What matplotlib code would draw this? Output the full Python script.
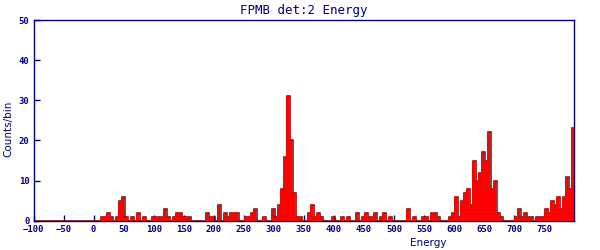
import numpy as np
import matplotlib
matplotlib.use('Agg')
import matplotlib.pyplot as plt

# histogram: 5-unit bins from -100 to 800
bin_start = -100
bin_stop = 800
bin_width = 5

counts_m100 = [0] * 20
counts_0 = [0, 0, 1, 1, 2, 1, 0, 1, 5, 6, 1, 0, 1, 0, 2, 0, 1, 0, 0, 1]
counts_100 = [1, 1, 1, 3, 1, 0, 1, 2, 2, 1, 1, 1, 0, 0, 0, 0, 0, 2, 1, 1]
counts_200 = [0, 4, 0, 2, 1, 2, 2, 2, 0, 0, 1, 1, 2, 3, 0, 0, 1, 0, 0, 3]
counts_300 = [1, 4, 8, 16, 31, 20, 7, 1, 1, 0, 0, 2, 4, 1, 2, 1, 0, 0, 0, 1]
counts_400 = [0, 0, 1, 0, 1, 0, 0, 2, 0, 1, 2, 1, 1, 2, 0, 1, 2, 0, 1, 0]
counts_500 = [0, 0, 0, 0, 3, 0, 1, 0, 0, 1, 1, 0, 2, 2, 1, 0, 0, 0, 1, 2]
counts_600 = [6, 1, 5, 7, 8, 4, 15, 10, 12, 17, 15, 22, 8, 10, 2, 1, 0, 0, 0, 0]
counts_700 = [1, 3, 1, 2, 1, 1, 0, 1, 1, 1, 3, 2, 5, 4, 6, 3, 6, 11, 8, 23]

counts = np.array(counts_m100 + counts_0 + counts_100 + counts_200 + counts_300
                  + counts_400 + counts_500 + counts_600 + counts_700, dtype=float)
edges = np.arange(bin_start, bin_stop + bin_width, bin_width)

navy = '#000080'

fig = plt.figure(figsize=(6, 2.5), dpi=100)
ax = fig.add_axes([0.056, 0.117, 0.901, 0.803])

# dark outline shifted one pixel right gives the shaded edge
px = (bin_stop - bin_start) / 540.0
ax.stairs(counts, edges + px, color='#7a0000', lw=1.1, zorder=3)
ax.stairs(counts, edges, fill=True, color='#ff0000', lw=0, zorder=4)

ax.set_xlim(bin_start, bin_stop)
ax.set_ylim(0, 50)
ax.set_xticks(np.arange(-100, 800, 50))
ax.set_yticks(np.arange(0, 51, 10))

for s in ax.spines.values():
    s.set_color(navy)
    s.set_linewidth(1.0)
ax.tick_params(direction='in', length=4, width=1, colors=navy, labelsize=6.5, pad=3)
for lab in ax.get_xticklabels() + ax.get_yticklabels():
    lab.set_family('DejaVu Sans Mono')
    lab.set_fontweight('bold')

ax.set_title('FPMB det:2 Energy', color=navy, fontsize=9, family='DejaVu Sans Mono', pad=4)
ax.set_xlabel('Energy', color=navy, fontsize=7.5)
ax.set_ylabel('Counts/bin', color=navy, fontsize=7.5)
ax.xaxis.set_label_coords(0.73, -0.085)
ax.yaxis.set_label_coords(-0.038, 0.46)

fig.savefig('out.png', dpi=100)
